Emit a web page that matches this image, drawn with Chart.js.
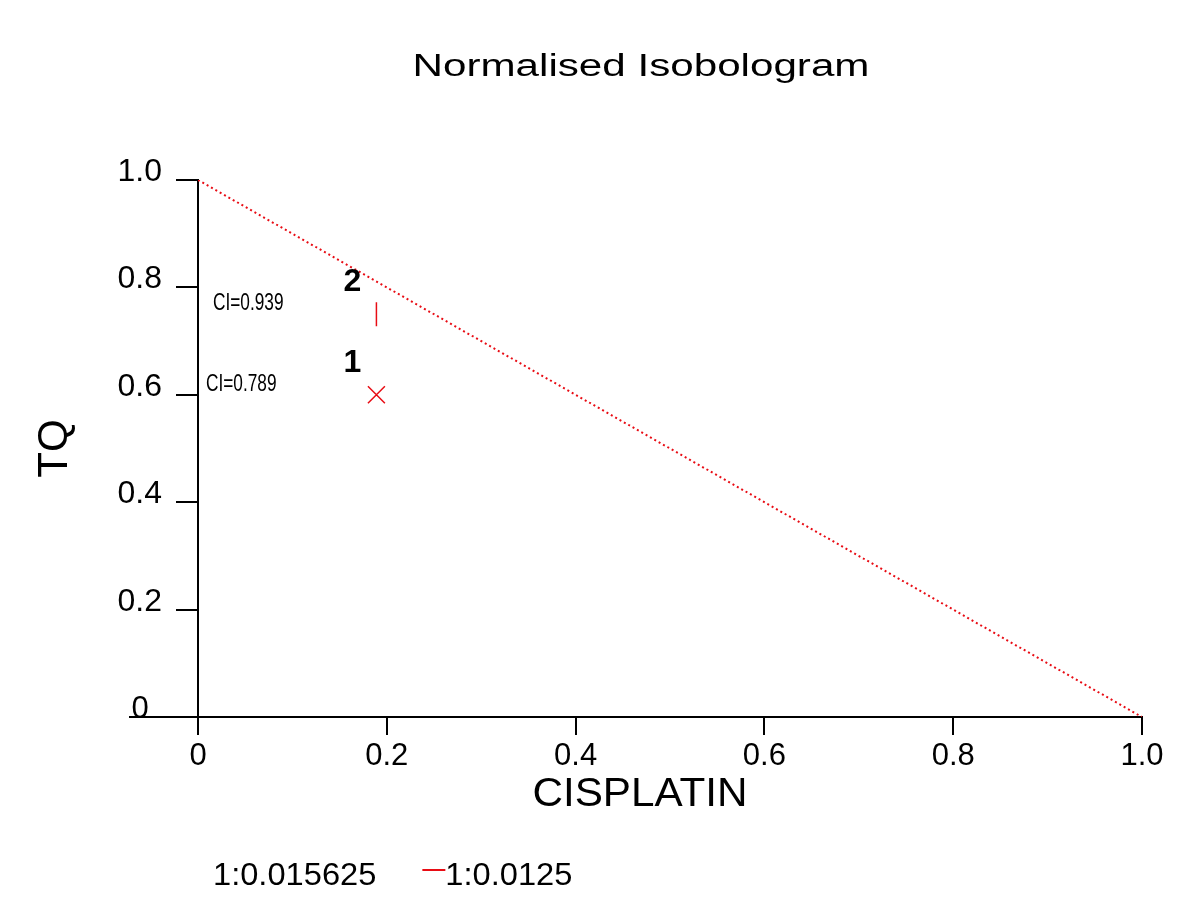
<!DOCTYPE html>
<html lang="en">
<head>
  <meta charset="UTF-8" />
  <title>Normalised Isobologram</title>
  <script src="https://cdn.jsdelivr.net/npm/chart.js"></script>
  <style>
    html, body {
      margin: 0;
      padding: 0;
      background: #fff;
      overflow: hidden;
    }
    canvas {
      display: block;
    }
  </style>
</head>
<body>
  <canvas id="isoChart" width="1200" height="913"></canvas>
  <script>
    // series ratios (legend) and their point ids
    const ratios = ['1:0.015625', '1:0.0125'];
    const pointIds = ['1', '2'];
    // normalised doses
    const cisplatin = [0.189, 0.189];
    const tq = [0.6, 0.75];
    // combination index per point
    const ciValues = [0.789, 0.939];
    // line of additivity
    const additivityX = [0, 1];
    const additivityY = [1, 0];
    const tickValues = [0, 0.2, 0.4, 0.6, 0.8, 1.0];

    const RED = 'rgb(232, 12, 20)';
    const SANS = 'Arial, "Liberation Sans", sans-serif';
    const tickLabel = v => v === 0 ? '0' : v.toFixed(1);

    // text with optional horizontal stretch (the original uses a wide bitmap font)
    function stretchText(ctx, str, x, y, font, sx, align) {
      ctx.save();
      ctx.font = font;
      ctx.fillStyle = '#000';
      ctx.textAlign = align || 'left';
      ctx.textBaseline = 'alphabetic';
      ctx.translate(x, y);
      ctx.scale(sx, 1);
      ctx.fillText(str, 0, 0);
      ctx.restore();
    }

    const decorations = {
      id: 'decorations',
      afterDraw(chart) {
        const ctx = chart.ctx;
        const area = chart.chartArea;
        const ys = chart.scales.y;
        const y0 = ys.getPixelForValue(0);

        // x axis line runs a bit past the y axis on the left
        ctx.save();
        ctx.strokeStyle = '#000';
        ctx.lineWidth = 2;
        ctx.beginPath();
        ctx.moveTo(area.left - 69, y0);
        ctx.lineTo(area.left, y0);
        ctx.stroke();
        ctx.restore();

        // y tick labels sit on top of their tick marks
        tickValues.forEach(v => {
          const py = ys.getPixelForValue(v) + 1;
          if (v === 0) {
            stretchText(ctx, tickLabel(v), area.left - 58, py, '31px ' + SANS, 1, 'center');
          } else {
            stretchText(ctx, tickLabel(v), area.left - 36, py, '31px ' + SANS, 1.03, 'right');
          }
        });

        // title and axis titles
        stretchText(ctx, 'Normalised Isobologram', (area.left + area.right) / 2 - 29, 76,
          '31px ' + SANS, 1.36, 'center');
        stretchText(ctx, 'CISPLATIN', (area.left + area.right) / 2 - 30, 806,
          '41px ' + SANS, 1.03, 'center');
        ctx.save();
        ctx.translate(67, (area.top + area.bottom) / 2);
        ctx.rotate(-Math.PI / 2);
        stretchText(ctx, 'TQ', 0, 0, '42px ' + SANS, 1, 'center');
        ctx.restore();

        // point ids and CI labels
        const ciOffsets = [8, 15];
        pointIds.forEach((id, i) => {
          const pt = chart.getDatasetMeta(i + 1).data[0];
          stretchText(ctx, id, pt.x - 24, pt.y - 23, 'bold 32px ' + SANS, 1, 'center');
          stretchText(ctx, 'CI=' + ciValues[i].toFixed(3), area.left + ciOffsets[i], pt.y - 4,
            '23px ' + SANS, 0.75, 'left');
        });

        // legend
        const legFont = '32px ' + SANS;
        const legY = 885;
        let lx = 213;
        ratios.forEach((r, i) => {
          if (i > 0) {
            ctx.save();
            ctx.strokeStyle = RED;
            ctx.lineWidth = 2;
            ctx.beginPath();
            ctx.moveTo(lx, legY - 15);
            ctx.lineTo(lx + 23, legY - 15);
            ctx.stroke();
            ctx.restore();
            lx += 23;
          }
          stretchText(ctx, r, lx, legY, legFont, 1.02, 'left');
          ctx.save();
          ctx.font = legFont;
          lx += ctx.measureText(r).width * 1.02 + 46;
          ctx.restore();
        });
      }
    };

    const axisOpts = {
      type: 'linear',
      min: 0,
      max: 1,
      border: { display: true, color: '#000', width: 2 },
      grid: { drawOnChartArea: false, drawTicks: true, color: '#000', lineWidth: 2 },
      afterBuildTicks: s => { s.ticks = tickValues.map(v => ({ value: v })); }
    };

    new Chart(document.getElementById('isoChart'), {
      type: 'scatter',
      data: {
        datasets: [
          {
            label: 'additivity',
            data: additivityX.map((x, i) => ({ x: x, y: additivityY[i] })),
            showLine: true,
            borderColor: RED,
            borderWidth: 2,
            borderDash: [2, 3],
            pointRadius: 0
          },
          {
            label: ratios[0],
            data: [{ x: cisplatin[0], y: tq[0] }],
            pointStyle: 'crossRot',
            pointRadius: 12,
            borderColor: RED,
            borderWidth: 1.5
          },
          {
            label: ratios[1],
            data: [{ x: cisplatin[1], y: tq[1] }],
            pointStyle: 'line',
            rotation: 90,
            pointRadius: 12,
            borderColor: RED,
            borderWidth: 1.5
          }
        ]
      },
      options: {
        responsive: false,
        animation: false,
        layout: { padding: { left: 100, right: 58, top: 180, bottom: 136 } },
        plugins: { legend: { display: false }, tooltip: { enabled: false } },
        scales: {
          x: Object.assign({}, axisOpts, {
            grid: Object.assign({}, axisOpts.grid, { tickLength: 18 }),
            ticks: { color: '#000', font: { family: SANS, size: 31 }, padding: 3,
              maxRotation: 0, autoSkip: false, callback: tickLabel },
            afterFit: s => { s.height = 60; }
          }),
          y: Object.assign({}, axisOpts, {
            grid: Object.assign({}, axisOpts.grid, { tickLength: 22 }),
            ticks: { display: false },
            afterFit: s => { s.width = 98; }
          })
        }
      },
      plugins: [decorations]
    });
  </script>
</body>
</html>
